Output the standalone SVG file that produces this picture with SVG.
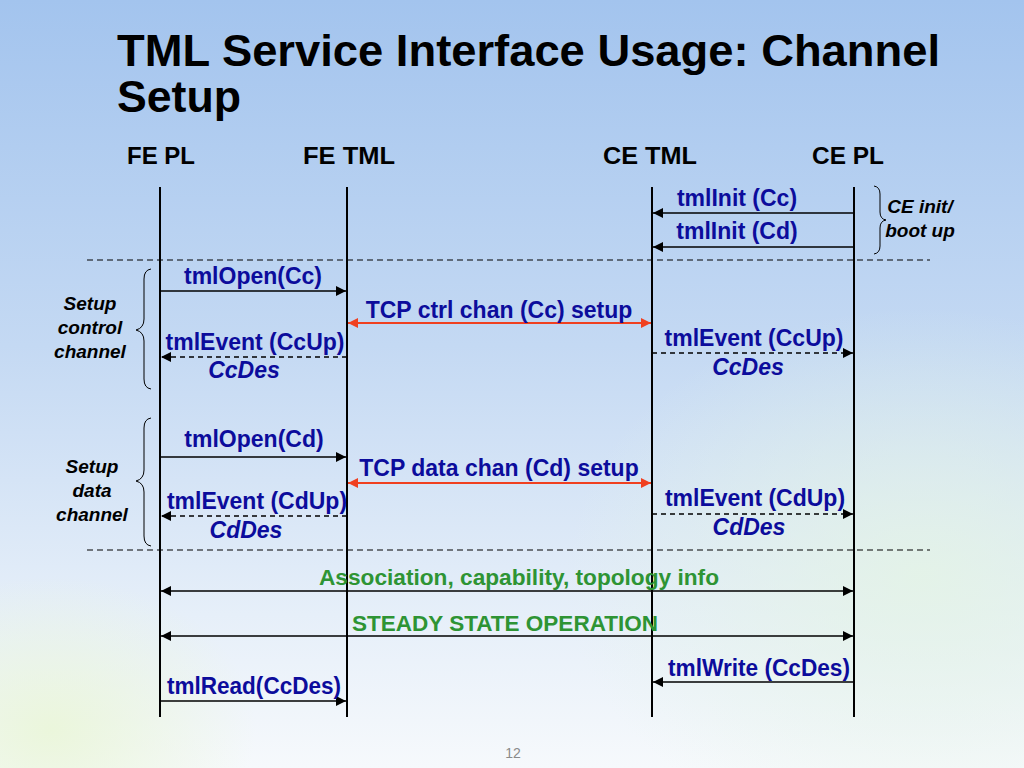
<svg xmlns="http://www.w3.org/2000/svg" width="1024" height="768" viewBox="0 0 1024 768">
<defs>
<linearGradient id="bg" x1="0" y1="0" x2="0" y2="1">
<stop offset="0" stop-color="#a3c4ee"/>
<stop offset="0.45" stop-color="#c4d9f3"/>
<stop offset="0.8" stop-color="#e6eff9"/>
<stop offset="1" stop-color="#f6f9fc"/>
</linearGradient>
<radialGradient id="g1" cx="0.9" cy="0.75" r="0.35">
<stop offset="0" stop-color="#e4f4e4" stop-opacity="0.8"/>
<stop offset="1" stop-color="#e4f4e4" stop-opacity="0"/>
</radialGradient>
<radialGradient id="g2" cx="0.05" cy="0.95" r="0.2">
<stop offset="0" stop-color="#eaf6d8" stop-opacity="0.9"/>
<stop offset="1" stop-color="#eaf6d8" stop-opacity="0"/>
</radialGradient>
<marker id="ab" viewBox="0 0 10 10" refX="10" refY="5" markerWidth="10" markerHeight="11" markerUnits="userSpaceOnUse" orient="auto-start-reverse">
<path d="M0,0 L10,5 L0,10 z" fill="#000"/>
</marker>
<marker id="ar" viewBox="0 0 10 10" refX="10" refY="5" markerWidth="10" markerHeight="11" markerUnits="userSpaceOnUse" orient="auto-start-reverse">
<path d="M0,0 L10,5 L0,10 z" fill="#f04020"/>
</marker>
<style>
.title{font-family:"Liberation Sans",Arial,sans-serif;font-weight:bold;font-size:44px;fill:#000}
.hdr{font-family:"Liberation Sans",Arial,sans-serif;font-weight:bold;font-size:23px;fill:#000;text-anchor:middle}
.msg{font-family:"Liberation Sans",Arial,sans-serif;font-weight:bold;font-size:23px;fill:#0c0c9c;text-anchor:middle}
.des{font-family:"Liberation Sans",Arial,sans-serif;font-weight:bold;font-style:italic;font-size:23px;fill:#0c0c9c;text-anchor:middle}
.grn{font-family:"Liberation Sans",Arial,sans-serif;font-weight:bold;font-size:22px;fill:#2e9434;text-anchor:middle}
.note{font-family:"Liberation Sans",Arial,sans-serif;font-weight:bold;font-style:italic;font-size:19px;fill:#000;text-anchor:middle}
.life{stroke:#000;stroke-width:2;fill:none}
.sep{stroke:#000;stroke-width:1.2;stroke-dasharray:6,4;fill:none}
.solid{stroke:#000;stroke-width:1.5;fill:none;marker-end:url(#ab)}
.dash{stroke:#000;stroke-width:1.5;stroke-dasharray:5,4;fill:none;marker-end:url(#ab)}
.both{stroke:#000;stroke-width:1.5;fill:none;marker-start:url(#ab);marker-end:url(#ab)}
.red{stroke:#f04020;stroke-width:2;fill:none;marker-start:url(#ar);marker-end:url(#ar)}
.brace{stroke:#000;stroke-width:1;fill:none}
</style>
</defs>
<rect width="1024" height="768" fill="url(#bg)"/>
<rect width="1024" height="768" fill="url(#g1)"/>
<rect width="1024" height="768" fill="url(#g2)"/>

<g id="title">
<text class="title" x="117" y="66" textLength="823" lengthAdjust="spacingAndGlyphs">TML Service Interface Usage: Channel</text>
<text class="title" x="117" y="112" textLength="124" lengthAdjust="spacingAndGlyphs">Setup</text>
</g>

<g id="fe-pl"><text class="hdr" x="161" y="164" textLength="68" lengthAdjust="spacingAndGlyphs">FE PL</text><line class="life" x1="160" y1="187" x2="160" y2="717"/></g>
<g id="fe-tml"><text class="hdr" x="349" y="164" textLength="92" lengthAdjust="spacingAndGlyphs">FE TML</text><line class="life" x1="347" y1="187" x2="347" y2="717"/></g>
<g id="ce-tml"><text class="hdr" x="650" y="164" textLength="94" lengthAdjust="spacingAndGlyphs">CE TML</text><line class="life" x1="652" y1="187" x2="652" y2="717"/></g>
<g id="ce-pl"><text class="hdr" x="848" y="164" textLength="72" lengthAdjust="spacingAndGlyphs">CE PL</text><line class="life" x1="854" y1="187" x2="854" y2="717"/></g>

<g id="separators">
<line class="sep" x1="87" y1="260" x2="930" y2="260"/>
<line class="sep" x1="87" y1="550" x2="930" y2="550"/>
</g>

<g id="braces">
<path class="brace" d="M874,186 Q880,187 880,194 L880,212 Q880,219 886,220 Q880,221 880,228 L880,246 Q880,253 874,254"/>
<path class="brace" d="M151,269 Q144,270 144,279 L144,319 Q144,328 136,330 Q144,332 144,341 L144,379 Q144,388 151,389"/>
<path class="brace" d="M151,418 Q144,419 144,428 L144,470 Q144,479 136,481 Q144,483 144,492 L144,536 Q144,545 151,546"/>
</g>

<g id="notes">
<text class="note" x="920" y="213">CE init/</text>
<text class="note" x="920" y="237">boot up</text>
<text class="note" x="90" y="310">Setup</text>
<text class="note" x="90" y="334">control</text>
<text class="note" x="90" y="358">channel</text>
<text class="note" x="92" y="473">Setup</text>
<text class="note" x="92" y="497">data</text>
<text class="note" x="92" y="521">channel</text>
</g>

<g id="connectors">
<line class="solid" x1="854" y1="213" x2="653" y2="213"/>
<line class="solid" x1="854" y1="247" x2="653" y2="247"/>
<line class="solid" x1="160" y1="291" x2="346" y2="291"/>
<line class="red" x1="348" y1="323" x2="651" y2="323"/>
<line class="dash" x1="347" y1="357" x2="161" y2="357"/>
<line class="dash" x1="652" y1="353" x2="853" y2="353"/>
<line class="solid" x1="160" y1="457" x2="346" y2="457"/>
<line class="red" x1="348" y1="483" x2="651" y2="483"/>
<line class="dash" x1="347" y1="516" x2="161" y2="516"/>
<line class="dash" x1="652" y1="514" x2="853" y2="514"/>
<line class="both" x1="161" y1="591" x2="853" y2="591"/>
<line class="both" x1="161" y1="636" x2="853" y2="636"/>
<line class="solid" x1="854" y1="682" x2="653" y2="682"/>
<line class="solid" x1="160" y1="701" x2="346" y2="701"/>
</g>

<g id="labels">
<text class="msg" x="737" y="206">tmlInit (Cc)</text>
<text class="msg" x="737" y="239">tmlInit (Cd)</text>
<text class="msg" x="253" y="284">tmlOpen(Cc)</text>
<text class="msg" x="499" y="318">TCP ctrl chan (Cc) setup</text>
<text class="msg" x="255" y="350">tmlEvent (CcUp)</text>
<text class="des" x="244" y="378">CcDes</text>
<text class="msg" x="754" y="346">tmlEvent (CcUp)</text>
<text class="des" x="748" y="375">CcDes</text>
<text class="msg" x="254" y="447">tmlOpen(Cd)</text>
<text class="msg" x="499" y="476">TCP data chan (Cd) setup</text>
<text class="msg" x="257" y="509">tmlEvent (CdUp)</text>
<text class="des" x="246" y="538">CdDes</text>
<text class="msg" x="755" y="506">tmlEvent (CdUp)</text>
<text class="des" x="749" y="535">CdDes</text>
<text class="grn" x="519" y="585" textLength="400" lengthAdjust="spacingAndGlyphs">Association, capability, topology info</text>
<text class="grn" x="505" y="631" textLength="306" lengthAdjust="spacingAndGlyphs">STEADY STATE OPERATION</text>
<text class="msg" x="759" y="676" textLength="182" lengthAdjust="spacingAndGlyphs">tmlWrite (CcDes)</text>
<text class="msg" x="254" y="694" textLength="174" lengthAdjust="spacingAndGlyphs">tmlRead(CcDes)</text>
</g>

<text x="513" y="758" font-family="Liberation Sans, Arial, sans-serif" font-size="14" fill="#8a8a8a" text-anchor="middle">12</text>
</svg>
